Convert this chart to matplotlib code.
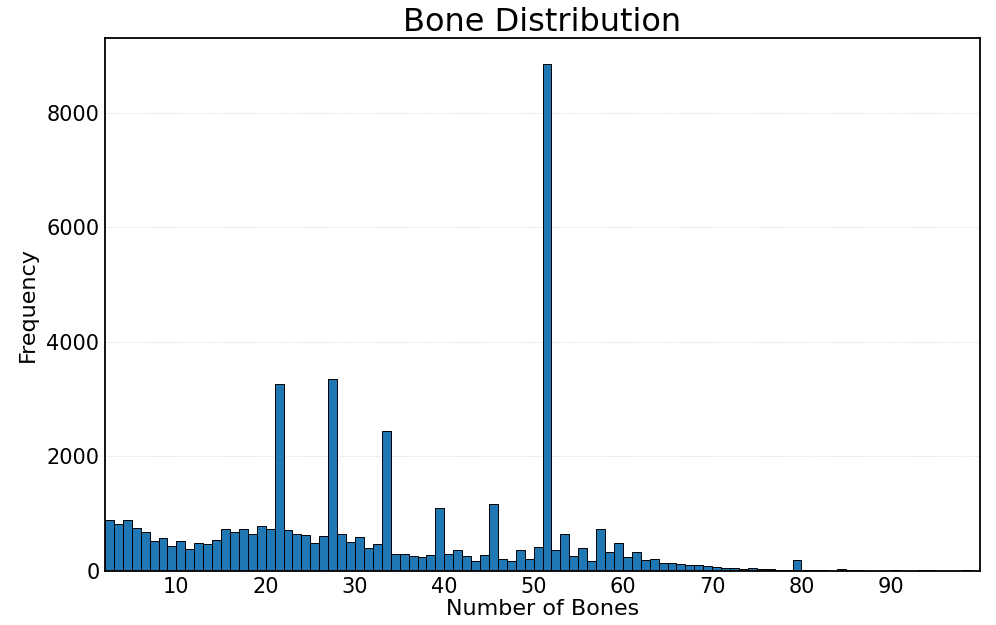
import matplotlib
matplotlib.use("Agg")
import matplotlib.pyplot as plt
import numpy as np

# number of bones per skeleton, one bin per integer value (2 .. 99)
bone_counts = np.arange(2, 100)
frequency = [
    886, 816, 886, 746, 676, 519, 582, 431, 519, 384,      # 2-11
    495, 466, 542, 728, 676, 728, 646, 786, 739, 3262,     # 12-21
    722, 646, 624, 489, 606, 3349, 641, 501, 589, 396,     # 22-31
    478, 2446, 291, 303, 256, 250, 274, 1100, 291, 361,    # 32-41
    256, 181, 285, 1165, 215, 175, 373, 204, 425, 8863,    # 42-51
    367, 641, 256, 396, 175, 728, 332, 489, 239, 326,      # 52-61
    192, 204, 140, 140, 117, 99, 99, 95, 64, 47,           # 62-71
    47, 30, 52, 35, 35, 25, 25, 190, 25, 20,               # 72-81
    15, 5, 30, 10, 15, 5, 5, 5, 20, 5,                     # 82-91
    5, 10, 25, 5, 5, 5, 15, 5,                             # 92-99
]
bin_edges = np.arange(2, 101)
x_ticks = [10, 20, 30, 40, 50, 60, 70, 80, 90]
y_ticks = [0, 2000, 4000, 6000, 8000]

fig = plt.figure(figsize=(9.96, 6.25), dpi=100)
ax = fig.add_axes([0.1054, 0.0864, 0.8786, 0.8528])

ax.hist(bone_counts, bins=bin_edges, weights=frequency,
        color='#1f77b4', edgecolor='black', linewidth=0.7)

ax.set_xlim(2, 100)
ax.set_ylim(0, 9310)
ax.set_xticks(x_ticks)
ax.set_yticks(y_ticks)
ax.tick_params(axis='both', length=0, labelsize=15, pad=4)

ax.grid(axis='y', linestyle=':', color='#d5d5d5', linewidth=0.7)
ax.set_axisbelow(True)
for s in ax.spines.values():
    s.set_linewidth(1.3)

ax.set_title("Bone Distribution", fontsize=23, pad=3)
ax.set_xlabel("Number of Bones", fontsize=16, labelpad=2)
ax.set_ylabel("Frequency", fontsize=16, labelpad=6)

fig.savefig("out.png", dpi=100)
